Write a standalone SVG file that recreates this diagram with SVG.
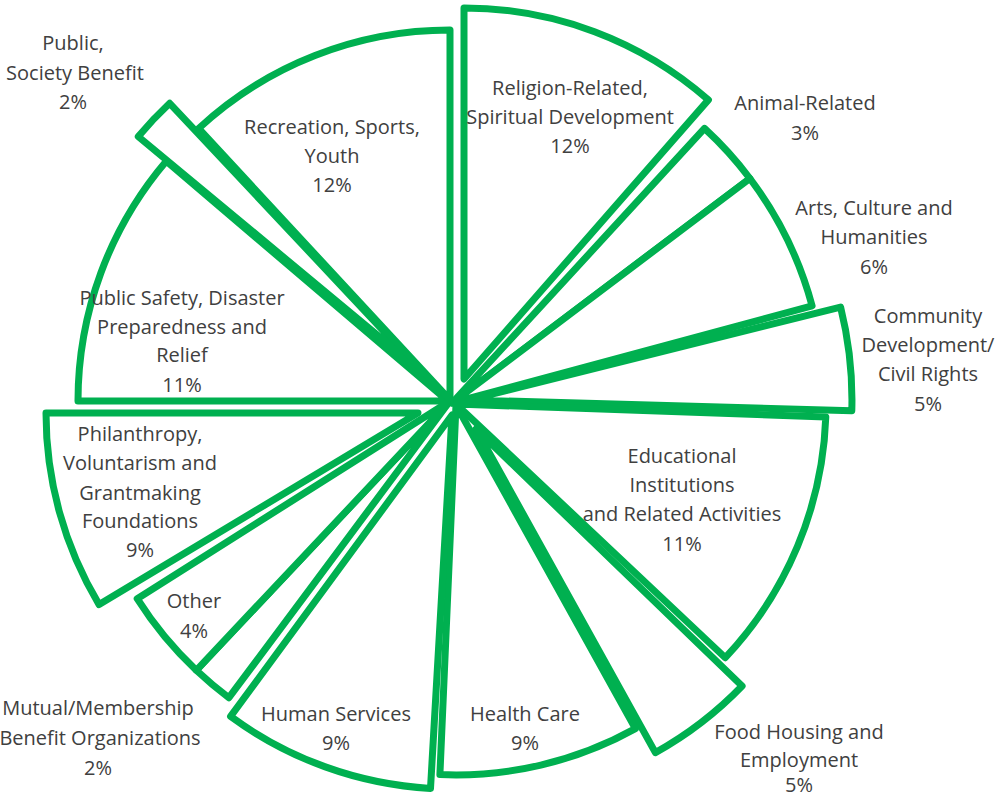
<svg xmlns="http://www.w3.org/2000/svg" width="998" height="797" viewBox="0 0 998 797">
<style>
.s{fill:#fff;stroke:#00B050;stroke-width:7;stroke-linejoin:round}
.t{font-family:"Open Sans","Liberation Sans",sans-serif;font-size:20px;fill:#404040;text-anchor:middle}
</style>
<rect width="998" height="797" fill="#fff"/>
<g id="slices">
<g id="religion"><path class="s" d="M464,379 L464,8 A371,371 0 0 1 708.4,99.9 Z"/></g>
<g id="animal"><path class="s" d="M452,403 L704.5,128.4 A373,373 0 0 1 749.9,178.5 Z"/></g>
<g id="arts"><path class="s" d="M452,403 L749.9,178.5 A373,373 0 0 1 812.1,305.8 Z"/></g>
<g id="community"><path class="s" d="M468,400 L840.6,307.1 A384,384 0 0 1 851.8,410.7 Z"/></g>
<g id="educational"><path class="s" d="M456,404 L825.8,416.9 A370,370 0 0 1 725.3,657.7 Z"/></g>
<g id="food"><path class="s" d="M476,429 L742.1,686 A370,370 0 0 1 655.4,752.6 Z"/></g>
<g id="health"><path class="s" d="M456,405 L635.4,728.6 A370,370 0 0 1 439.9,774.6 Z"/></g>
<g id="human"><path class="s" d="M452,415 L430.5,788.4 A374,374 0 0 1 230.6,716.4 Z"/></g>
<g id="mutual"><path class="s" d="M450,401 L228.9,697.7 A370,370 0 0 1 196.3,670.3 Z"/></g>
<g id="other"><path class="s" d="M450,401 L196.3,670.3 A370,370 0 0 1 137.2,598.7 Z"/></g>
<g id="philanthropy"><path class="s" d="M418,413 L99.1,604.6 A372,372 0 0 1 46,413 Z"/></g>
<g id="publicsafety"><path class="s" d="M448,401 L78,401 A370,370 0 0 1 166.2,161.2 Z"/></g>
<g id="publicsociety"><path class="s" d="M423,373 L138.3,136.6 A370,370 0 0 1 169.7,103.3 Z"/></g>
<g id="recreation"><path class="s" d="M450,400 L198.6,128.5 A370,370 0 0 1 450,30 Z"/></g>
</g>
<g id="labels">
<g id="lbl-publicsociety"><text class="t" x="73" y="50">Public,</text><text class="t" x="75" y="80">Society Benefit</text><text class="t" x="73" y="109">2%</text></g>
<g id="lbl-religion"><text class="t" x="570" y="95">Religion-Related,</text><text class="t" x="570" y="124">Spiritual Development</text><text class="t" x="570" y="153">12%</text></g>
<g id="lbl-animal"><text class="t" x="805" y="110">Animal-Related</text><text class="t" x="805" y="140">3%</text></g>
<g id="lbl-arts"><text class="t" x="874" y="215">Arts, Culture and</text><text class="t" x="874" y="244">Humanities</text><text class="t" x="874" y="274">6%</text></g>
<g id="lbl-community"><text class="t" x="928" y="323">Community</text><text class="t" x="928" y="352">Development/</text><text class="t" x="928" y="381">Civil Rights</text><text class="t" x="928" y="411">5%</text></g>
<g id="lbl-recreation"><text class="t" x="332" y="134">Recreation, Sports,</text><text class="t" x="332" y="163">Youth</text><text class="t" x="332" y="192">12%</text></g>
<g id="lbl-publicsafety"><text class="t" x="182" y="305">Public Safety, Disaster</text><text class="t" x="182" y="334">Preparedness and</text><text class="t" x="182" y="362">Relief</text><text class="t" x="182" y="392">11%</text></g>
<g id="lbl-philanthropy"><text class="t" x="140" y="441">Philanthropy,</text><text class="t" x="140" y="470">Voluntarism and</text><text class="t" x="140" y="500">Grantmaking</text><text class="t" x="140" y="528">Foundations</text><text class="t" x="140" y="557">9%</text></g>
<g id="lbl-educational"><text class="t" x="682" y="463">Educational</text><text class="t" x="682" y="492">Institutions</text><text class="t" x="682" y="521">and Related Activities</text><text class="t" x="682" y="551">11%</text></g>
<g id="lbl-other"><text class="t" x="194" y="608">Other</text><text class="t" x="194" y="638">4%</text></g>
<g id="lbl-mutual"><text class="t" x="98" y="715">Mutual/Membership</text><text class="t" x="100" y="745">Benefit Organizations</text><text class="t" x="98" y="775">2%</text></g>
<g id="lbl-human"><text class="t" x="336" y="721">Human Services</text><text class="t" x="336" y="750">9%</text></g>
<g id="lbl-health"><text class="t" x="525" y="721">Health Care</text><text class="t" x="525" y="750">9%</text></g>
<g id="lbl-food"><text class="t" x="799" y="739">Food Housing and</text><text class="t" x="799" y="767">Employment</text><text class="t" x="799" y="792">5%</text></g>
</g>
</svg>
